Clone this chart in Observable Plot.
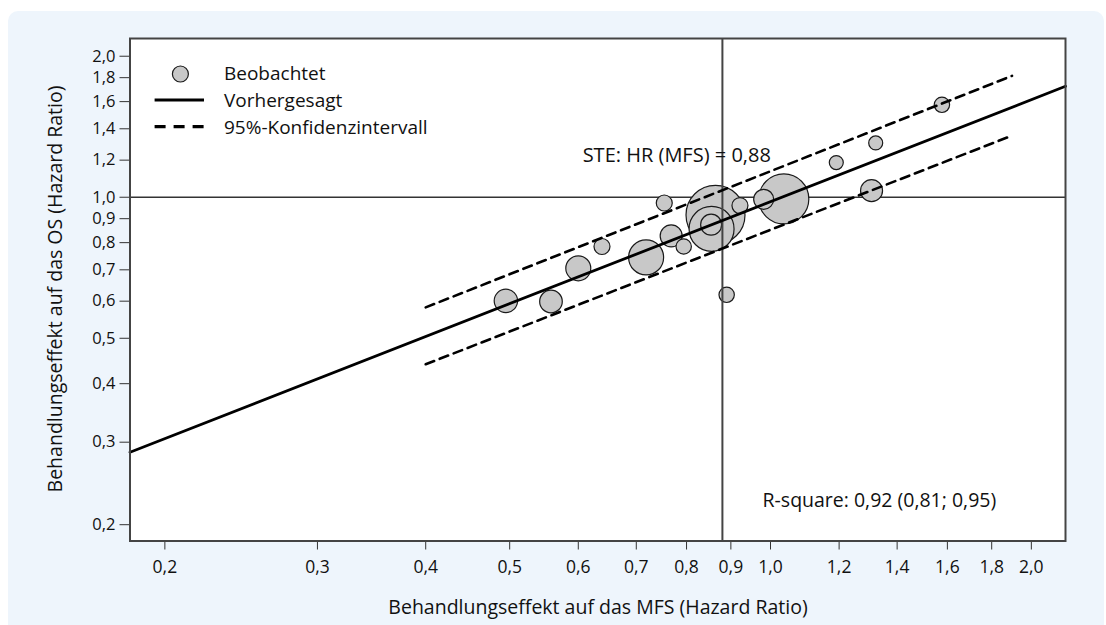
<!DOCTYPE html>
<html><head><meta charset="utf-8">
<script src="https://cdn.jsdelivr.net/npm/d3@7"></script>
<script src="https://cdn.jsdelivr.net/npm/@observablehq/plot@0.6"></script>
<style>
body{margin:0;background:#fff;font-family:"Open Sans",sans-serif;color:#111;}
#wrap{position:relative;width:1106px;height:625px;overflow:hidden;}
#panel{position:absolute;left:7.5px;top:11px;width:1096.5px;height:660px;background:#eef5fc;border-radius:10px;}
#chart{position:absolute;left:0;top:0;}
#legend{position:absolute;left:0;top:0;}
.axt{position:absolute;font-size:19.5px;white-space:nowrap;line-height:1;}
#xt{left:598px;top:606.7px;transform:translate(-50%,-50%);}
#yt{left:55.4px;top:289px;transform:translate(-50%,-50%) rotate(-90deg);}
</style></head><body>
<div id="wrap"><div id="panel"></div><div id="chart"></div><div id="legend"></div>
<div class="axt" id="xt">Behandlungseffekt auf das MFS (Hazard Ratio)</div>
<div class="axt" id="yt">Behandlungseffekt auf das OS (Hazard Ratio)</div>
</div>
<script>
// Observed studies (draw order), HR on MFS, HR on OS, relative weight
const studyMFS = [0.495, 0.558, 0.600, 0.639, 0.7185, 0.754, 0.768, 0.794, 0.922, 0.864, 0.855, 0.854, 0.890, 0.982, 1.036, 1.191, 1.308, 1.3225, 1.577];
const studyOS  = [0.601, 0.599, 0.705, 0.785, 0.744, 0.972, 0.827, 0.785, 0.960, 0.917, 0.856, 0.874, 0.619, 0.990, 0.992, 1.186, 1.033, 1.306, 1.575];
const studyWeight = [137, 128, 156, 64, 306, 64, 121, 59, 64, 870, 506, 110, 59, 100, 625, 49, 121, 49, 59];

// Predicted regression line and 95% interval
const predMFS = [0.1823, 2.19];
const predOS  = [0.2856, 1.725];
const ciMFS   = [0.40, 1.90];
const ciUpper = [0.582, 1.816];
const ciLower = [0.440, 1.354];

const tickValues = [0.2, 0.3, 0.4, 0.5, 0.6, 0.7, 0.8, 0.9, 1.0, 1.2, 1.4, 1.6, 1.8, 2.0];
const steHR = 0.88;
const steLabel = "STE: HR (MFS) = 0,88";
const r2Label = "R-square: 0,92 (0,81; 0,95)";
const legendLabels = ["Beobachtet", "Vorhergesagt", "95%-Konfidenzintervall"];

const studies = studyMFS.map((x, i) => ({x, y: studyOS[i], w: studyWeight[i]}));
const pred = predMFS.map((x, i) => ({x, y: predOS[i]}));
const upper = ciMFS.map((x, i) => ({x, y: ciUpper[i]}));
const lower = ciMFS.map((x, i) => ({x, y: ciLower[i]}));
const fmt = d => d.toFixed(1).replace(".", ",");

const chart = Plot.plot({
  width: 1106,
  height: 625,
  marginLeft: 129.5,
  marginRight: 41,
  marginTop: 38,
  marginBottom: 84.5,
  style: {fontFamily: "Open Sans", fontSize: "17px", color: "#111", background: "transparent", overflow: "visible"},
  x: {type: "log", domain: [0.1823, 2.19]},
  y: {type: "log", domain: [0.1846, 2.182]},
  r: {type: "sqrt", domain: [0, 900], range: [0, 30]},
  marks: [
    Plot.frame({fill: "white", stroke: "none"}),
    Plot.ruleY([1], {stroke: "#333", strokeWidth: 1.5}),
    Plot.dot(studies, {x: "x", y: "y", r: "w", fill: "#c8c8c8", stroke: "#1a1a1a", strokeWidth: 1.2}),
    Plot.ruleX([steHR], {stroke: "#444", strokeWidth: 2}),
    Plot.line(upper, {x: "x", y: "y", stroke: "black", strokeWidth: 2.6, strokeDasharray: "9,6"}),
    Plot.line(lower, {x: "x", y: "y", stroke: "black", strokeWidth: 2.6, strokeDasharray: "9,6"}),
    Plot.line(pred, {x: "x", y: "y", stroke: "black", strokeWidth: 2.8}),
    Plot.text([steLabel], {x: 0.607, y: 1.227, text: d => d, textAnchor: "start", fontSize: 20, fill: "#111"}),
    Plot.text([r2Label], {x: 0.979, y: 0.2248, text: d => d, textAnchor: "start", fontSize: 19.5, fill: "#111"}),
    Plot.axisX({ticks: tickValues, tickFormat: fmt, tickSize: 9, tickPadding: 10.5, label: null, stroke: "#333", fontSize: 17.5}),
    Plot.axisY({ticks: tickValues, tickFormat: fmt, tickSize: 10, tickPadding: 4.5, label: null, stroke: "#333", fontSize: 16.5}),
    Plot.frame({stroke: "#444", strokeWidth: 2})
  ]
});
document.getElementById("chart").appendChild(chart);

// Legend (inside the plot area, top-left)
const lg = d3.select("#legend").append("svg").attr("width", 500).attr("height", 150)
  .style("font-family", "Open Sans").style("font-size", "19px");
lg.append("circle").attr("cx", 180.4).attr("cy", 74).attr("r", 8).attr("fill", "#c8c8c8").attr("stroke", "#1a1a1a").attr("stroke-width", 1.2);
lg.append("line").attr("x1", 154.6).attr("x2", 204).attr("y1", 100).attr("y2", 100).attr("stroke", "black").attr("stroke-width", 3.2);
lg.append("line").attr("x1", 154.6).attr("x2", 204).attr("y1", 126.7).attr("y2", 126.7).attr("stroke", "black").attr("stroke-width", 3.2).attr("stroke-dasharray", "11,8");
[73, 100, 127].forEach((yy, i) => {
  lg.append("text").attr("x", 224).attr("y", yy).attr("dy", "0.35em").attr("fill", "#111").text(legendLabels[i]);
});
</script>
</body></html>
